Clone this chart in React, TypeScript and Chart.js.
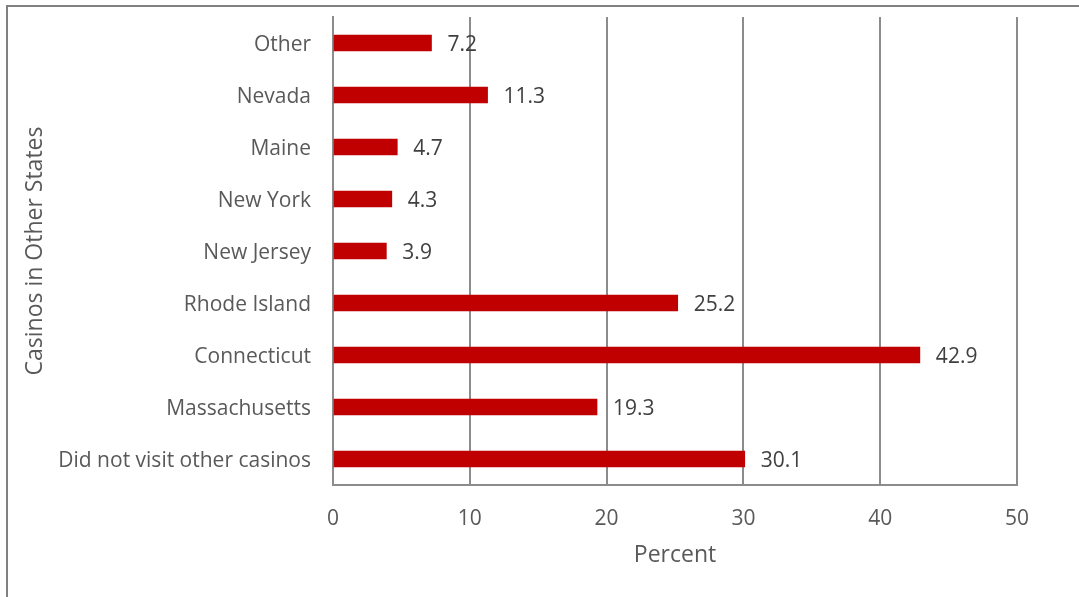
import React, { useEffect, useRef } from "react";
import { Chart, registerables } from "chart.js";

Chart.register(...registerables);

const categories = [
  "Other",
  "Nevada",
  "Maine",
  "New York",
  "New Jersey",
  "Rhode Island",
  "Connecticut",
  "Massachusetts",
  "Did not visit other casinos",
];
const percentValues = [7.2, 11.3, 4.7, 4.3, 3.9, 25.2, 42.9, 19.3, 30.1];
const xTickValues = [0, 10, 20, 30, 40, 50];
const xAxisTitle = "Percent";
const yAxisTitle = "Casinos in Other States";

const FONT = "'Open Sans', sans-serif";
const GRID = "#8c8c8c";

const dataLabelPlugin = {
  id: "dataLabels",
  afterDatasetsDraw(chart: any) {
    const ctx = chart.ctx;
    const meta = chart.getDatasetMeta(0);
    ctx.save();
    ctx.font = `21px ${FONT}`;
    ctx.fillStyle = "#404040";
    ctx.textAlign = "left";
    ctx.textBaseline = "middle";
    meta.data.forEach((bar: any, i: number) => {
      ctx.fillText(percentValues[i].toFixed(1), bar.x + 16, bar.y + 2);
    });
    ctx.restore();
  },
};

export default function App() {
  const ref = useRef<HTMLCanvasElement>(null);
  useEffect(() => {
    document.body.style.margin = "0";
    const chart = new Chart(ref.current!, {
      type: "bar",
      data: {
        labels: categories,
        datasets: [
          {
            data: percentValues,
            backgroundColor: "#C00000",
            barThickness: 16,
          },
        ],
      },
      plugins: [dataLabelPlugin],
      options: {
        indexAxis: "y",
        animation: false,
        responsive: false,
        layout: { padding: { top: 17, right: 62, left: 0, bottom: 0 } },
        plugins: { legend: { display: false }, tooltip: { enabled: false } },
        scales: {
          x: {
            min: 0,
            max: 50,
            afterFit: (s: any) => {
              s.height = 112;
              s.paddingLeft = 0;
              s.paddingRight = 0;
            },
            afterBuildTicks: (s: any) => {
              s.ticks = xTickValues.map((v) => ({ value: v }));
            },
            grid: { color: GRID, lineWidth: 2, drawTicks: false },
            border: { color: GRID, width: 2 },
            ticks: {
              color: "#595959",
              font: { family: FONT, size: 21 },
              padding: 21,
            },
            title: {
              display: true,
              text: xAxisTitle,
              color: "#595959",
              font: { family: FONT, size: 23 },
              padding: { top: 0, bottom: 28 },
            },
          },
          y: {
            afterFit: (s: any) => {
              s.width = 333;
              s.paddingTop = 0;
              s.paddingBottom = 0;
            },
            grid: { display: false, drawTicks: false },
            border: { color: GRID, width: 2 },
            ticks: {
              color: "#595959",
              font: { family: FONT, size: 21 },
              padding: 22,
              labelOffset: 2,
            },
            title: {
              display: true,
              text: yAxisTitle,
              color: "#595959",
              font: { family: FONT, size: 23 },
              padding: { top: 22, bottom: 0 },
            },
          },
        },
      },
    });
    return () => chart.destroy();
  }, []);
  return (
    <div style={{ position: "relative", width: 1079, height: 597, overflow: "hidden" }}>
      <div
        style={{
          position: "absolute",
          left: 6,
          top: 5,
          width: 1200,
          height: 700,
          border: "2px solid #808080",
        }}
      />
      <canvas ref={ref} width={1079} height={597} style={{ position: "absolute", left: 0, top: 0 }} />
    </div>
  );
}
